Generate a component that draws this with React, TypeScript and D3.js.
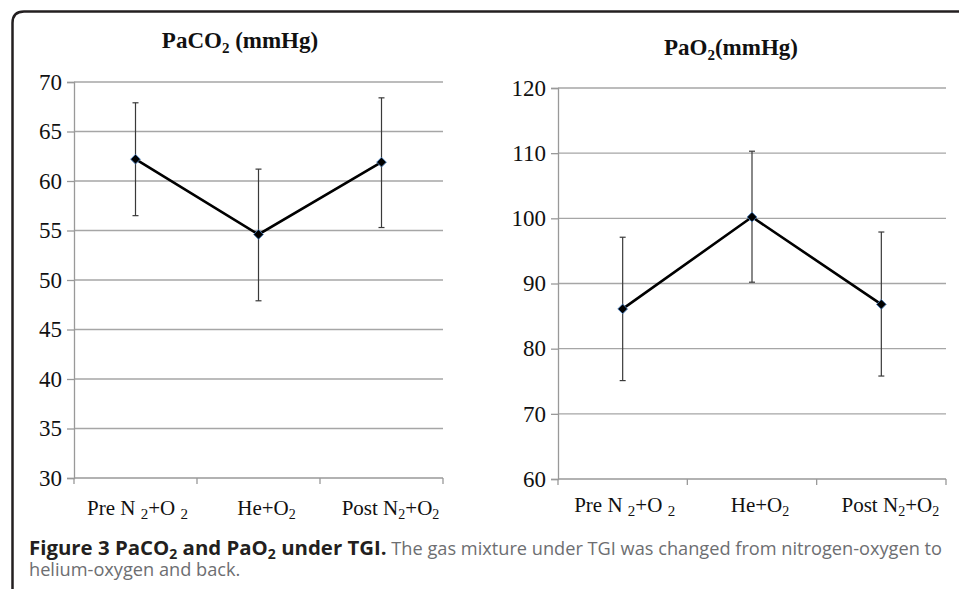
import { useEffect, useRef } from "react";
import * as d3 from "d3";

const CATEGORIES = ["pre", "he", "post"];

// PaCO2 (mmHg)
const PACO2_MEAN = [62.2, 54.6, 61.9];
const PACO2_HIGH = [67.9, 61.2, 68.4];
const PACO2_LOW = [56.5, 47.9, 55.3];
const PACO2_TICKS = [30, 35, 40, 45, 50, 55, 60, 65, 70];

// PaO2 (mmHg)
const PAO2_MEAN = [86.1, 100.2, 86.8];
const PAO2_HIGH = [97.1, 110.3, 97.9];
const PAO2_LOW = [75.1, 90.2, 75.8];
const PAO2_TICKS = [60, 70, 80, 90, 100, 110, 120];

const SERIF = "Liberation Serif, Times New Roman, serif";
const SANS = "Open Sans, Noto Sans, sans-serif";

type Panel = {
	title: string;
	titleSub: string;
	titleRest: string;
	titleX: number;
	titleY: number;
	left: number;
	right: number;
	top: number;
	bottom: number;
	domain: [number, number];
	ticks: number[];
	mean: number[];
	high: number[];
	low: number[];
	labelY: number;
};

const PANELS: Panel[] = [
	{
		title: "PaCO", titleSub: "2", titleRest: " (mmHg)",
		titleX: 240, titleY: 48,
		left: 74, right: 443, top: 82, bottom: 478,
		domain: [30, 70], ticks: PACO2_TICKS,
		mean: PACO2_MEAN, high: PACO2_HIGH, low: PACO2_LOW,
		labelY: 515,
	},
	{
		title: "PaO", titleSub: "2", titleRest: "(mmHg)",
		titleX: 731, titleY: 55,
		left: 558, right: 946, top: 88, bottom: 479,
		domain: [60, 120], ticks: PAO2_TICKS,
		mean: PAO2_MEAN, high: PAO2_HIGH, low: PAO2_LOW,
		labelY: 512,
	},
];

function drawPanel(svg: d3.Selection<SVGSVGElement, unknown, null, undefined>, p: Panel) {
	const x = d3.scaleBand<string>().domain(CATEGORIES).range([p.left, p.right]);
	const y = d3.scaleLinear().domain(p.domain).range([p.bottom, p.top]);
	const cx = (c: string) => x(c)! + x.bandwidth() / 2;

	const g = svg.append("g");

	// gridlines
	g.selectAll("line.grid")
		.data(p.ticks.slice(1))
		.enter()
		.append("line")
		.attr("x1", p.left)
		.attr("x2", p.right)
		.attr("y1", d => y(d))
		.attr("y2", d => y(d))
		.attr("stroke", "#a6a6a6")
		.attr("stroke-width", 1.3);

	// y axis (lines from d3, labels drawn below in serif)
	const yAxis = g.append("g")
		.attr("transform", `translate(${p.left},0)`)
		.call(d3.axisLeft(y).tickValues(p.ticks).tickSize(7).tickFormat(() => ""));
	yAxis.select(".domain").attr("stroke", "#999").attr("stroke-width", 1.3);
	yAxis.selectAll(".tick line").attr("stroke", "#999").attr("stroke-width", 1.3);

	g.append("g")
		.selectAll("text")
		.data(p.ticks)
		.enter()
		.append("text")
		.attr("x", p.left - 12)
		.attr("y", d => y(d))
		.attr("dy", "0.34em")
		.attr("text-anchor", "end")
		.style("font-family", SERIF)
		.style("font-size", "23px")
		.attr("fill", "#111")
		.text(d => d);

	// x axis line + ticks at band boundaries
	g.append("line")
		.attr("x1", p.left)
		.attr("x2", p.right)
		.attr("y1", p.bottom)
		.attr("y2", p.bottom)
		.attr("stroke", "#999")
		.attr("stroke-width", 1.3);
	const bounds = CATEGORIES.map(c => x(c)!).concat([p.right]);
	g.selectAll("line.xtick")
		.data(bounds)
		.enter()
		.append("line")
		.attr("x1", d => d)
		.attr("x2", d => d)
		.attr("y1", p.bottom)
		.attr("y2", p.bottom + 6)
		.attr("stroke", "#999")
		.attr("stroke-width", 1.3);

	// category labels
	const labels = g.append("g")
		.attr("font-family", SERIF)
		.attr("font-size", 21)
		.attr("fill", "#111");

	const pre = labels.append("text")
		.attr("x", cx("pre") + 2)
		.attr("y", p.labelY)
		.attr("text-anchor", "middle");
	pre.append("tspan").text("Pre N ");
	pre.append("tspan").attr("font-size", 15).attr("dy", 4).text("2");
	pre.append("tspan").attr("dy", -4).text("+O ");
	pre.append("tspan").attr("font-size", 15).attr("dy", 4).text("2");

	const he = labels.append("text")
		.attr("x", cx("he") + 8)
		.attr("y", p.labelY)
		.attr("text-anchor", "middle");
	he.append("tspan").text("He+O");
	he.append("tspan").attr("font-size", 14).attr("dy", 4).text("2");

	const post = labels.append("text")
		.attr("x", cx("post") + 9)
		.attr("y", p.labelY)
		.attr("text-anchor", "middle");
	post.append("tspan").text("Post N");
	post.append("tspan").attr("font-size", 14).attr("dy", 4).text("2");
	post.append("tspan").attr("dy", -4).text("+O");
	post.append("tspan").attr("font-size", 14).attr("dy", 4).text("2");

	// error bars
	const err = g.append("g").attr("stroke", "#3a3a3a").attr("stroke-width", 1.2);
	CATEGORIES.forEach((c, i) => {
		const xc = cx(c);
		err.append("line")
			.attr("x1", xc).attr("x2", xc)
			.attr("y1", y(p.high[i])).attr("y2", y(p.low[i]));
		[p.high[i], p.low[i]].forEach(v => {
			err.append("line")
				.attr("x1", xc - 3).attr("x2", xc + 3)
				.attr("y1", y(v)).attr("y2", y(v));
		});
	});

	// mean line
	const line = d3.line<number>()
		.x((_, i) => cx(CATEGORIES[i]))
		.y(d => y(d));
	g.append("path")
		.datum(p.mean)
		.attr("d", line)
		.attr("fill", "none")
		.attr("stroke", "#000")
		.attr("stroke-width", 2.6);

	// diamond markers
	const diamond = d3.symbol().type(d3.symbolDiamond2).size(60);
	g.selectAll("path.marker")
		.data(p.mean)
		.enter()
		.append("path")
		.attr("d", diamond)
		.attr("transform", (d, i) => `translate(${cx(CATEGORIES[i])},${y(d)})`)
		.attr("fill", "#000")
		.attr("stroke", "#4a7ebb")
		.attr("stroke-width", 0.9);

	// title
	const title = g.append("text")
		.attr("x", p.titleX)
		.attr("y", p.titleY)
		.attr("text-anchor", "middle")
		.attr("font-family", SERIF)
		.attr("font-weight", "bold")
		.attr("font-size", 23)
		.attr("fill", "#111");
	title.append("tspan").text(p.title);
	title.append("tspan").attr("font-size", 15).attr("dy", 5).text(p.titleSub);
	title.append("tspan").attr("dy", -5).text(p.titleRest);
}

export default function App() {
	const ref = useRef<SVGSVGElement>(null);

	useEffect(() => {
		if (!ref.current) return;
		const svg = d3.select(ref.current);
		svg.selectAll("*").remove();

		svg.append("rect")
			.attr("width", 959)
			.attr("height", 589)
			.attr("fill", "#fff");

		// frame
		svg.append("path")
			.attr("d", "M12.5,589 V23 Q12.5,11.5 24,11.5 H959")
			.attr("fill", "none")
			.attr("stroke", "#231f20")
			.attr("stroke-width", 2.5);

		PANELS.forEach(p => drawPanel(svg, p));

		// caption
		const cap = svg.append("g")
			.attr("font-family", SANS);

		const l1 = cap.append("text").attr("x", 29).attr("y", 555);
		const bold = l1.append("tspan").attr("font-weight", "bold").attr("fill", "#231f20").attr("font-size", 20.4);
		bold.append("tspan").text("Figure 3 PaCO");
		bold.append("tspan").attr("font-size", 14).attr("dy", 4).text("2");
		bold.append("tspan").attr("dy", -4).text(" and PaO");
		bold.append("tspan").attr("font-size", 14).attr("dy", 4).text("2");
		bold.append("tspan").attr("dy", -4).text(" under TGI.");
		l1.append("tspan")
			.attr("fill", "#6d6e71")
			.attr("font-size", 18.2)
			.text(" The gas mixture under TGI was changed from nitrogen-oxygen to");

		cap.append("text")
			.attr("x", 29)
			.attr("y", 576)
			.attr("fill", "#6d6e71")
			.attr("font-size", 18.2)
			.text("helium-oxygen and back.");
	}, []);

	return (
		<svg
			ref={ref}
			width={959}
			height={589}
			style={{ position: "absolute", left: 0, top: 0, display: "block" }}
		/>
	);
}
